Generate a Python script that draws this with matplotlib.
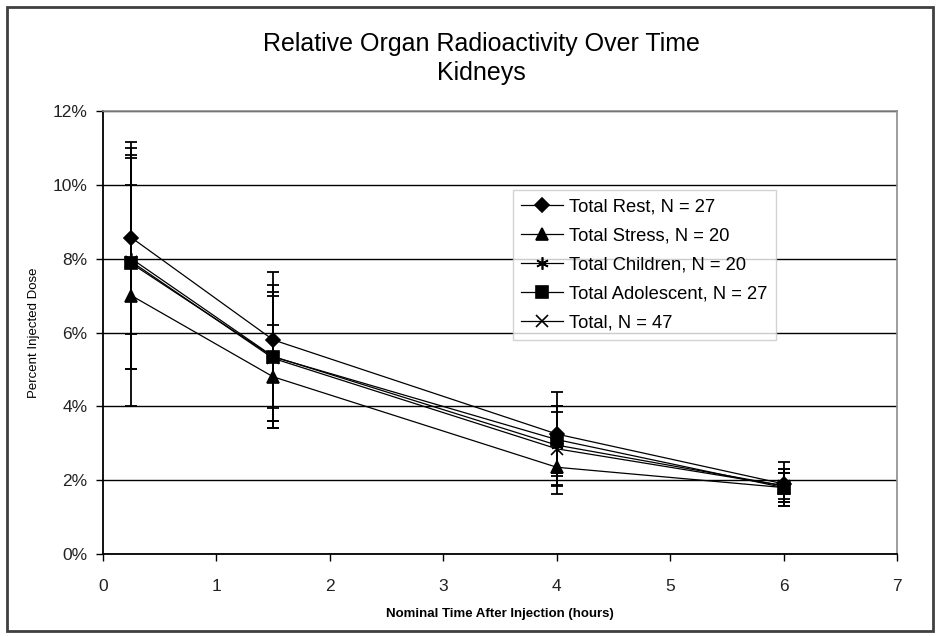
import matplotlib
matplotlib.use("Agg")
import matplotlib.pyplot as plt
from matplotlib.patches import Rectangle
from matplotlib.ticker import FuncFormatter

plt.rcParams['font.family'] = ['Liberation Sans', 'DejaVu Sans']

# nominal time after injection (hours)
hours = [0.25, 1.5, 4, 6]

# percent injected dose (%), with error bar half widths
rest = [8.57, 5.80, 3.25, 1.90]
rest_err = [2.60, 1.85, 1.14, 0.60]
stress = [7.00, 4.80, 2.35, 1.80]
stress_err = [3.00, 1.40, 0.73, 0.50]
children = [8.00, 5.35, 2.95, 1.85]
children_err = [3.00, 1.93, 1.07, 0.45]
adolescent = [7.87, 5.34, 3.10, 1.80]
adolescent_err = [2.85, 1.75, 0.90, 0.40]
total = [7.92, 5.30, 2.85, 1.85]
total_err = [2.90, 1.70, 1.00, 0.35]

labels = ['Total Rest, N = 27', 'Total Stress, N = 20', 'Total Children, N = 20',
          'Total Adolescent, N = 27', 'Total, N = 47']
markers = ['D', '^', (6, 2, 0), 's', 'x']
msizes = [7, 8, 9, 8, 8]

series = [rest, stress, children, adolescent, total]
errors = [rest_err, stress_err, children_err, adolescent_err, total_err]

fig = plt.figure(figsize=(9.4, 6.36), dpi=100)
ax = fig.add_axes([0.1096, 0.1289, 0.8447, 0.6966])

ax.set_axisbelow(True)
ax.grid(axis='y', color='black', linewidth=1.0)

handles = []
for y, e, m, ms, lab in zip(series, errors, markers, msizes, labels):
    ax.errorbar(hours, y, yerr=e, fmt='none', ecolor='black',
                elinewidth=1.3, capsize=4.3, capthick=1.3, zorder=3)
    ln, = ax.plot(hours, y, color='black', linewidth=0.9, marker=m,
                  markersize=ms, markerfacecolor='black',
                  markeredgecolor='black', markeredgewidth=1.2,
                  label=lab, zorder=4)
    handles.append(ln)

ax.set_xlim(0, 7)
ax.set_ylim(0, 12)
ax.set_xticks(range(0, 8))
ax.set_yticks(range(0, 13, 2))
ax.yaxis.set_major_formatter(FuncFormatter(lambda v, p: f'{v:.0f}%'))
ax.tick_params(direction='out', length=5, width=1, labelsize=12.5,
               colors='black', labelcolor='#222222')
ax.tick_params(axis='x', pad=13)
ax.tick_params(axis='y', pad=6)

for side in ['top', 'right']:
    ax.spines[side].set_color('#8c8c8c')
    ax.spines[side].set_linewidth(1.2)
for side in ['left', 'bottom']:
    ax.spines[side].set_color('black')
    ax.spines[side].set_linewidth(1.3)

ax.set_xlabel('Nominal Time After Injection (hours)', fontsize=9.5,
              fontweight='bold', labelpad=10)
ax.set_ylabel('Percent Injected Dose', fontsize=9.5, labelpad=9)

leg = ax.legend(handles=handles, loc='upper left',
                bbox_to_anchor=(513 / 940, 1 - 190 / 636),
                bbox_transform=fig.transFigure, borderaxespad=0,
                fontsize=13.2, frameon=True, fancybox=False,
                handlelength=2.3, handletextpad=0.3, labelspacing=0.66,
                borderpad=0.45)
leg.get_frame().set_edgecolor('#c8c8c8')
leg.get_frame().set_linewidth(1.0)

fig.text(0.512, 0.908, 'Relative Organ Radioactivity Over Time\nKidneys',
         ha='center', va='center', fontsize=18, linespacing=1.3)

fig.patches.append(Rectangle((7 / 940, 5 / 636), 926 / 940, 624 / 636,
                             transform=fig.transFigure, fill=False,
                             edgecolor='#404040', linewidth=2))

fig.savefig('out.png', dpi=100)
